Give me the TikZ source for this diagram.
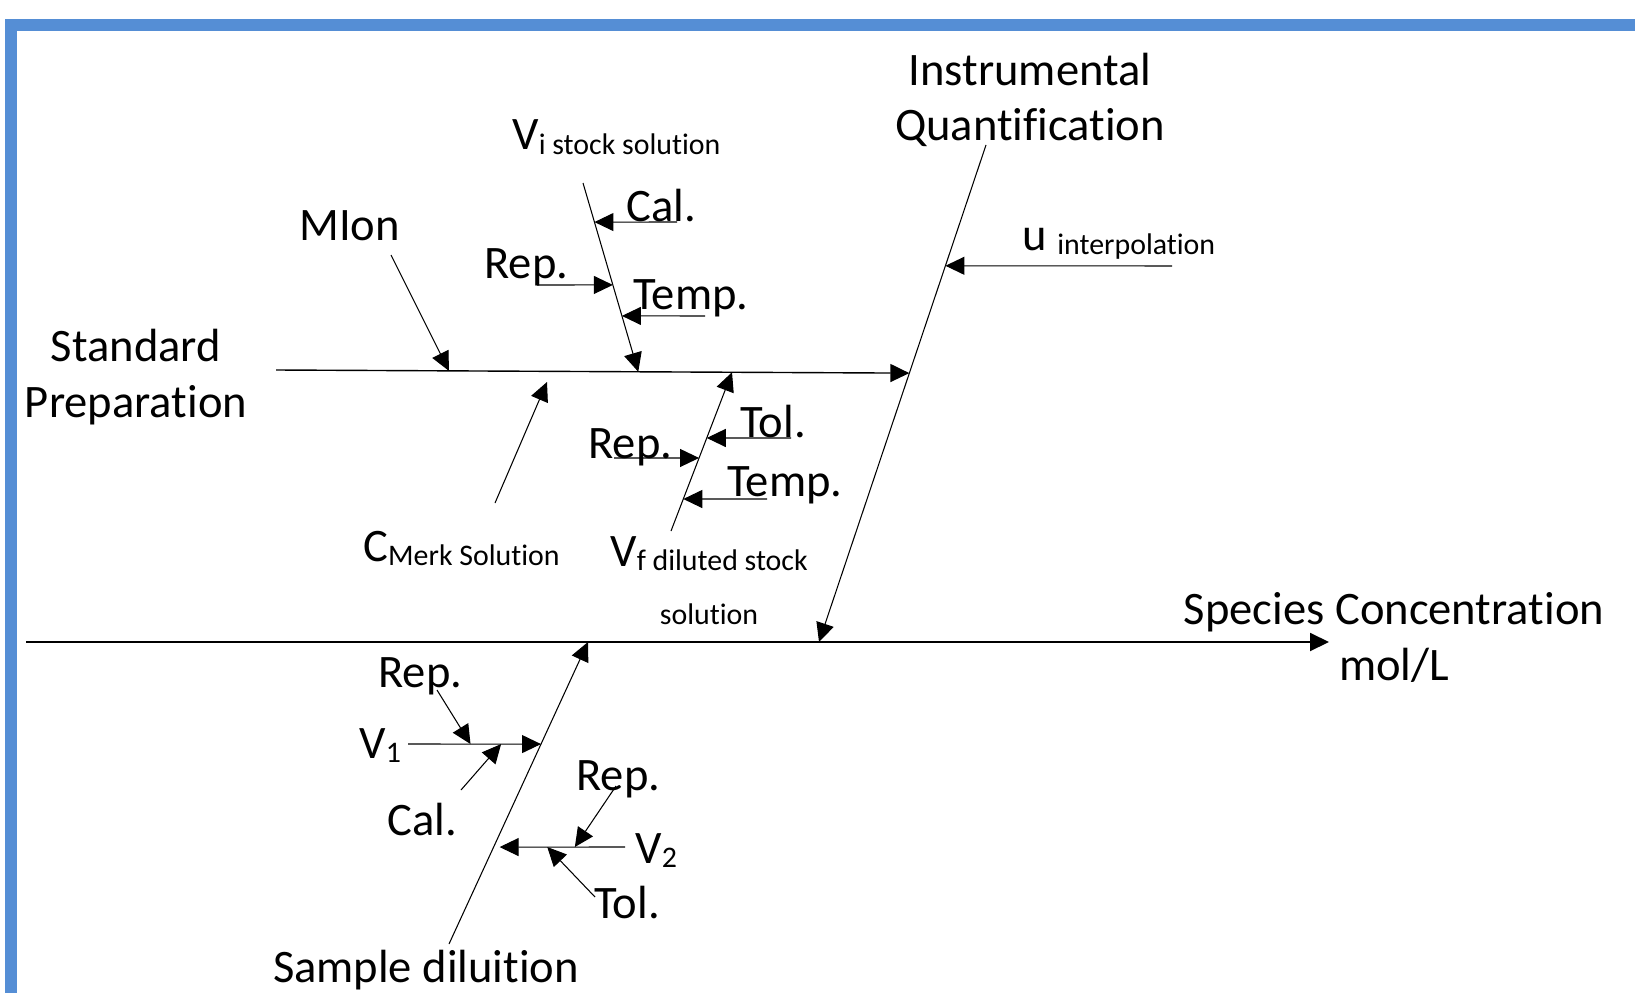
\documentclass[tikz,border=0pt]{standalone}
\usepackage{fontspec}
\setmainfont[Ligatures=NoCommon]{Carlito}
\usetikzlibrary{arrows.meta, calc, positioning}

\definecolor{frameblue}{RGB}{85,142,213}
\newcommand{\subtxt}[1]{\raisebox{-2.5pt}{\fontsize{17}{20}\selectfont #1}}

\tikzset{
    lab/.style={font=\fontsize{26.5}{31.5}\selectfont, inner sep=0pt, anchor=base west},
    twolines/.style={lab, anchor=base, align=center},
    smalllab/.style={font=\fontsize{17}{20}\selectfont, inner sep=0pt, anchor=base},
    bone/.style={line width=0.6pt, -{Triangle[length=0.38cm, width=0.36cm]}},
    mainbone/.style={bone, line width=1.1pt},
}

\begin{document}
\begin{tikzpicture}[x=0.02cm, y=-0.02cm]

    \useasboundingbox (0,0) rectangle (1635,993);
    \clip (0,0) rectangle (1635,993);
    \draw[frameblue, line width=0.24cm] (11,25) rectangle (1641,1010);

    % Main spine and the two upper causes
    \coordinate (ms-start) at (26,642);
    \coordinate (ms-end) at (1329,642);
    \coordinate (iq-top) at (986,145);
    \coordinate (iq-bot) at (819,642);
    \coordinate (sp-start) at (276,370);
    \coordinate (sp-end) at ($(iq-top)!0.459!(iq-bot)$);
    \draw[mainbone] (ms-start) -- (ms-end);
    \draw[bone] (iq-top) -- (iq-bot);
    \draw[bone, line width=0.8pt] (sp-start) -- (sp-end);

    \node[twolines] (sc-lab) at (1394,680) {Species Concentration\\mol/L};
    \node[twolines] (iq-lab) at (1030,141) {Instrumental\\Quantification};
    \node[twolines] (sp-lab) at (136,417) {Standard\\Preparation};

    % Instrumental quantification
    \coordinate (ui-start) at (1172,266);
    \coordinate (ui-tip) at ($(iq-top)!0.243!(iq-bot)$);
    \draw[bone] (ui-start) -- (ui-tip);
    \node[lab] (ui-lab) at (1022,250) {u \subtxt{interpolation}};

    % Standard preparation
    \coordinate (mi-start) at (391,255);
    \coordinate (mi-tip) at ($(sp-start)!0.273!(sp-end)$);
    \draw[bone] (mi-start) -- (mi-tip);
    \node[lab] (mi-lab) at (299,240) {MIon};

    \coordinate (cm-start) at (495,503);
    \coordinate (cm-tip) at (547,382);
    \draw[bone] (cm-start) -- (cm-tip);
    \node[lab] (cm-lab) at (363,561) {C\subtxt{Merk Solution}};

    % Stock solution volume
    \coordinate (vi-top) at (583,183);
    \coordinate (vi-bot) at ($(sp-start)!0.572!(sp-end)$);
    \draw[bone] (vi-top) -- (vi-bot);
    \node[lab] (vi-lab) at (512,150) {V\subtxt{i stock solution}};

    \coordinate (vi-cal) at (677,222);
    \coordinate (vi-rep) at (537,285);
    \coordinate (vi-temp) at (705,316);
    \draw[bone] (vi-cal) -- ($(vi-top)!0.207!(vi-bot)$);
    \draw[bone] (vi-rep) -- ($(vi-top)!0.540!(vi-bot)$);
    \draw[bone] (vi-temp) -- ($(vi-top)!0.704!(vi-bot)$);
    \node[lab] (vi-cal-lab) at (626,221) {Cal.};
    \node[lab] (vi-rep-lab) at (484,278) {Rep.};
    \node[lab] (vi-temp-lab) at (633,309) {Temp.};

    % Diluted stock solution volume
    \coordinate (vf-bot) at (671,531);
    \coordinate (vf-top) at ($(sp-start)!0.72!(sp-end)$);
    \draw[bone] (vf-bot) -- (vf-top);
    \node[lab] (vf-lab) at (610,566) {V\subtxt{f diluted stock}};
    \node[smalllab] (vf-lab2) at ($(vf-lab.base)+(0,58)$) {solution};

    \coordinate (vf-tol) at (791,438);
    \coordinate (vf-rep) at (614,458);
    \coordinate (vf-temp) at (767,499);
    \draw[bone] (vf-tol) -- ($(vf-bot)!0.586!(vf-top)$);
    \draw[bone] (vf-rep) -- ($(vf-bot)!0.46!(vf-top)$);
    \draw[bone] (vf-temp) -- ($(vf-bot)!0.2015!(vf-top)$);
    \node[lab] (vf-tol-lab) at (740,437) {Tol.};
    \node[lab] (vf-rep-lab) at (588,458) {Rep.};
    \node[lab] (vf-temp-lab) at (727,496) {Temp.};

    % Sample dilution
    \coordinate (sd-bot) at (449,944);
    \coordinate (sd-top) at ($(ms-start)!0.4313!(ms-end)$);
    \draw[bone] (sd-bot) -- (sd-top);
    \node[twolines] (sd-lab) at (426,982) {Sample diluition};

    \coordinate (v1-start) at (408,744);
    \coordinate (v1-tip) at ($(sd-bot)!0.662!(sd-top)$);
    \draw[bone] (v1-start) -- (v1-tip);
    \node[lab] (v1-lab) at (359,758) {V\subtxt{1}};
    \coordinate (v1-rep) at (437,690);
    \coordinate (v1-cal) at (461,790);
    \draw[bone] (v1-rep) -- ($(v1-start)!0.47!(v1-tip)$);
    \draw[bone] (v1-cal) -- ($(v1-start)!0.70!(v1-tip)$);
    \node[lab] (v1-rep-lab) at (378,687) {Rep.};
    \node[lab] (v1-cal-lab) at (387,835) {Cal.};

    \coordinate (v2-start) at (625,847);
    \coordinate (v2-tip) at ($(sd-bot)!0.321!(sd-top)+(6,0)$);
    \draw[bone] (v2-start) -- (v2-tip);
    \node[lab] (v2-lab) at (635,863) {V\subtxt{2}};
    \coordinate (v2-rep) at (616,786);
    \coordinate (v2-tol) at (595,897);
    \draw[bone] (v2-rep) -- ($(v2-start)!0.4!(v2-tip)$);
    \draw[bone] (v2-tol) -- ($(v2-start)!0.62!(v2-tip)$);
    \node[lab] (v2-rep-lab) at (576,790) {Rep.};
    \node[lab] (v2-tol-lab) at (594,918) {Tol.};

\end{tikzpicture}
\end{document}
